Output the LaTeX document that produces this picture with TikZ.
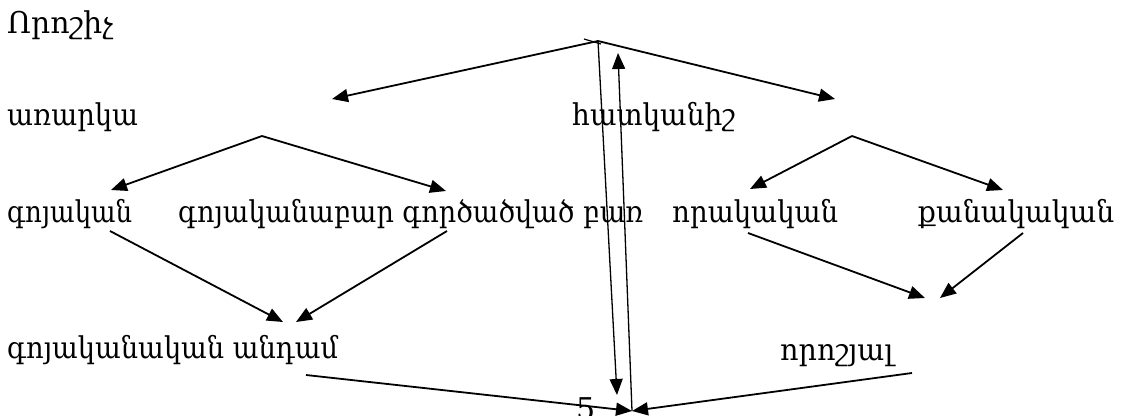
\documentclass[tikz,border=0pt]{standalone}
\usepackage{fontspec}
\setmainfont{DejaVu Serif}
\usetikzlibrary{arrows.meta}
\newcommand{\fitto}[2]{\resizebox{#1}{\height}{#2}}
\begin{document}
\begin{tikzpicture}[x=1pt,y=-1pt,
  lbl/.style={anchor=base west, inner sep=0pt, font=\fontsize{30}{34}\selectfont},
  conn/.style={line width=1.8pt, -{Triangle[length=16pt,width=13pt]}},
  thinconn/.style={line width=1.3pt, -{Triangle[length=16pt,width=13pt]}},
  plain/.style={line width=1.2pt}]
\useasboundingbox (0,0) rectangle (1124,415);
% texts
\node[lbl] (orosh) at (7,33) {\fitto{106pt}{Որոշիչ}};
\node[lbl] (arark) at (7,125) {\fitto{131pt}{առարկա}};
\node[lbl] (hatk) at (572,125) {\fitto{163pt}{հատկանիշ}};
\node[lbl] (goy) at (7,222) {\fitto{125pt}{գոյական}};
\node[lbl] (goyb) at (178,222) {\fitto{465pt}{գոյականաբար գործածված բառ}};
\node[lbl] (vorak) at (672,222) {\fitto{166pt}{որակական}};
\node[lbl] (kanak) at (918,222) {\fitto{196pt}{քանակական}};
\node[lbl] (goyand) at (7,358) {\fitto{331pt}{գոյականական անդամ}};
\node[lbl] (vorosh) at (780,360) {\fitto{113pt}{որոշյալ}};
\node[lbl] (num) at (576,419) {5};
% coordinates
\coordinate (apex) at (598,41);
\coordinate (tickA) at (584,39);
\coordinate (tickB) at (601,44);
\coordinate (aL) at (332,99);
\coordinate (aR) at (835,99);
\coordinate (downEnd) at (617,395);
\coordinate (bot) at (632,411);
\coordinate (upEnd) at (618,53);
\coordinate (ltop) at (262,136);
\coordinate (ltL) at (111,190);
\coordinate (ltR) at (446,191);
\coordinate (rtop) at (852,136);
\coordinate (rtL) at (750,189);
\coordinate (rtR) at (1003,190);
\coordinate (g1) at (110,231);
\coordinate (g2) at (447,231);
\coordinate (g1e) at (283,322);
\coordinate (g2e) at (296,322);
\coordinate (q1) at (748,233);
\coordinate (q2) at (1023,233);
\coordinate (q1e) at (925,298);
\coordinate (q2e) at (940,298);
\coordinate (b1) at (306,375);
\coordinate (b2) at (912,373);
% connectors
\draw[conn] (apex) -- (aL);
\draw[conn] (apex) -- (aR);
\draw[plain] (tickA) -- (tickB);
\draw[thinconn] (apex) -- (downEnd);
\draw[thinconn] (bot) -- (upEnd);
\draw[conn] (ltop) -- (ltL);
\draw[conn] (ltop) -- (ltR);
\draw[conn] (rtop) -- (rtL);
\draw[conn] (rtop) -- (rtR);
\draw[conn] (g1) -- (g1e);
\draw[conn] (g2) -- (g2e);
\draw[conn] (q1) -- (q1e);
\draw[conn] (q2) -- (q2e);
\draw[conn] (b1) -- (bot);
\draw[conn] (b2) -- (bot);
\end{tikzpicture}
\end{document}
